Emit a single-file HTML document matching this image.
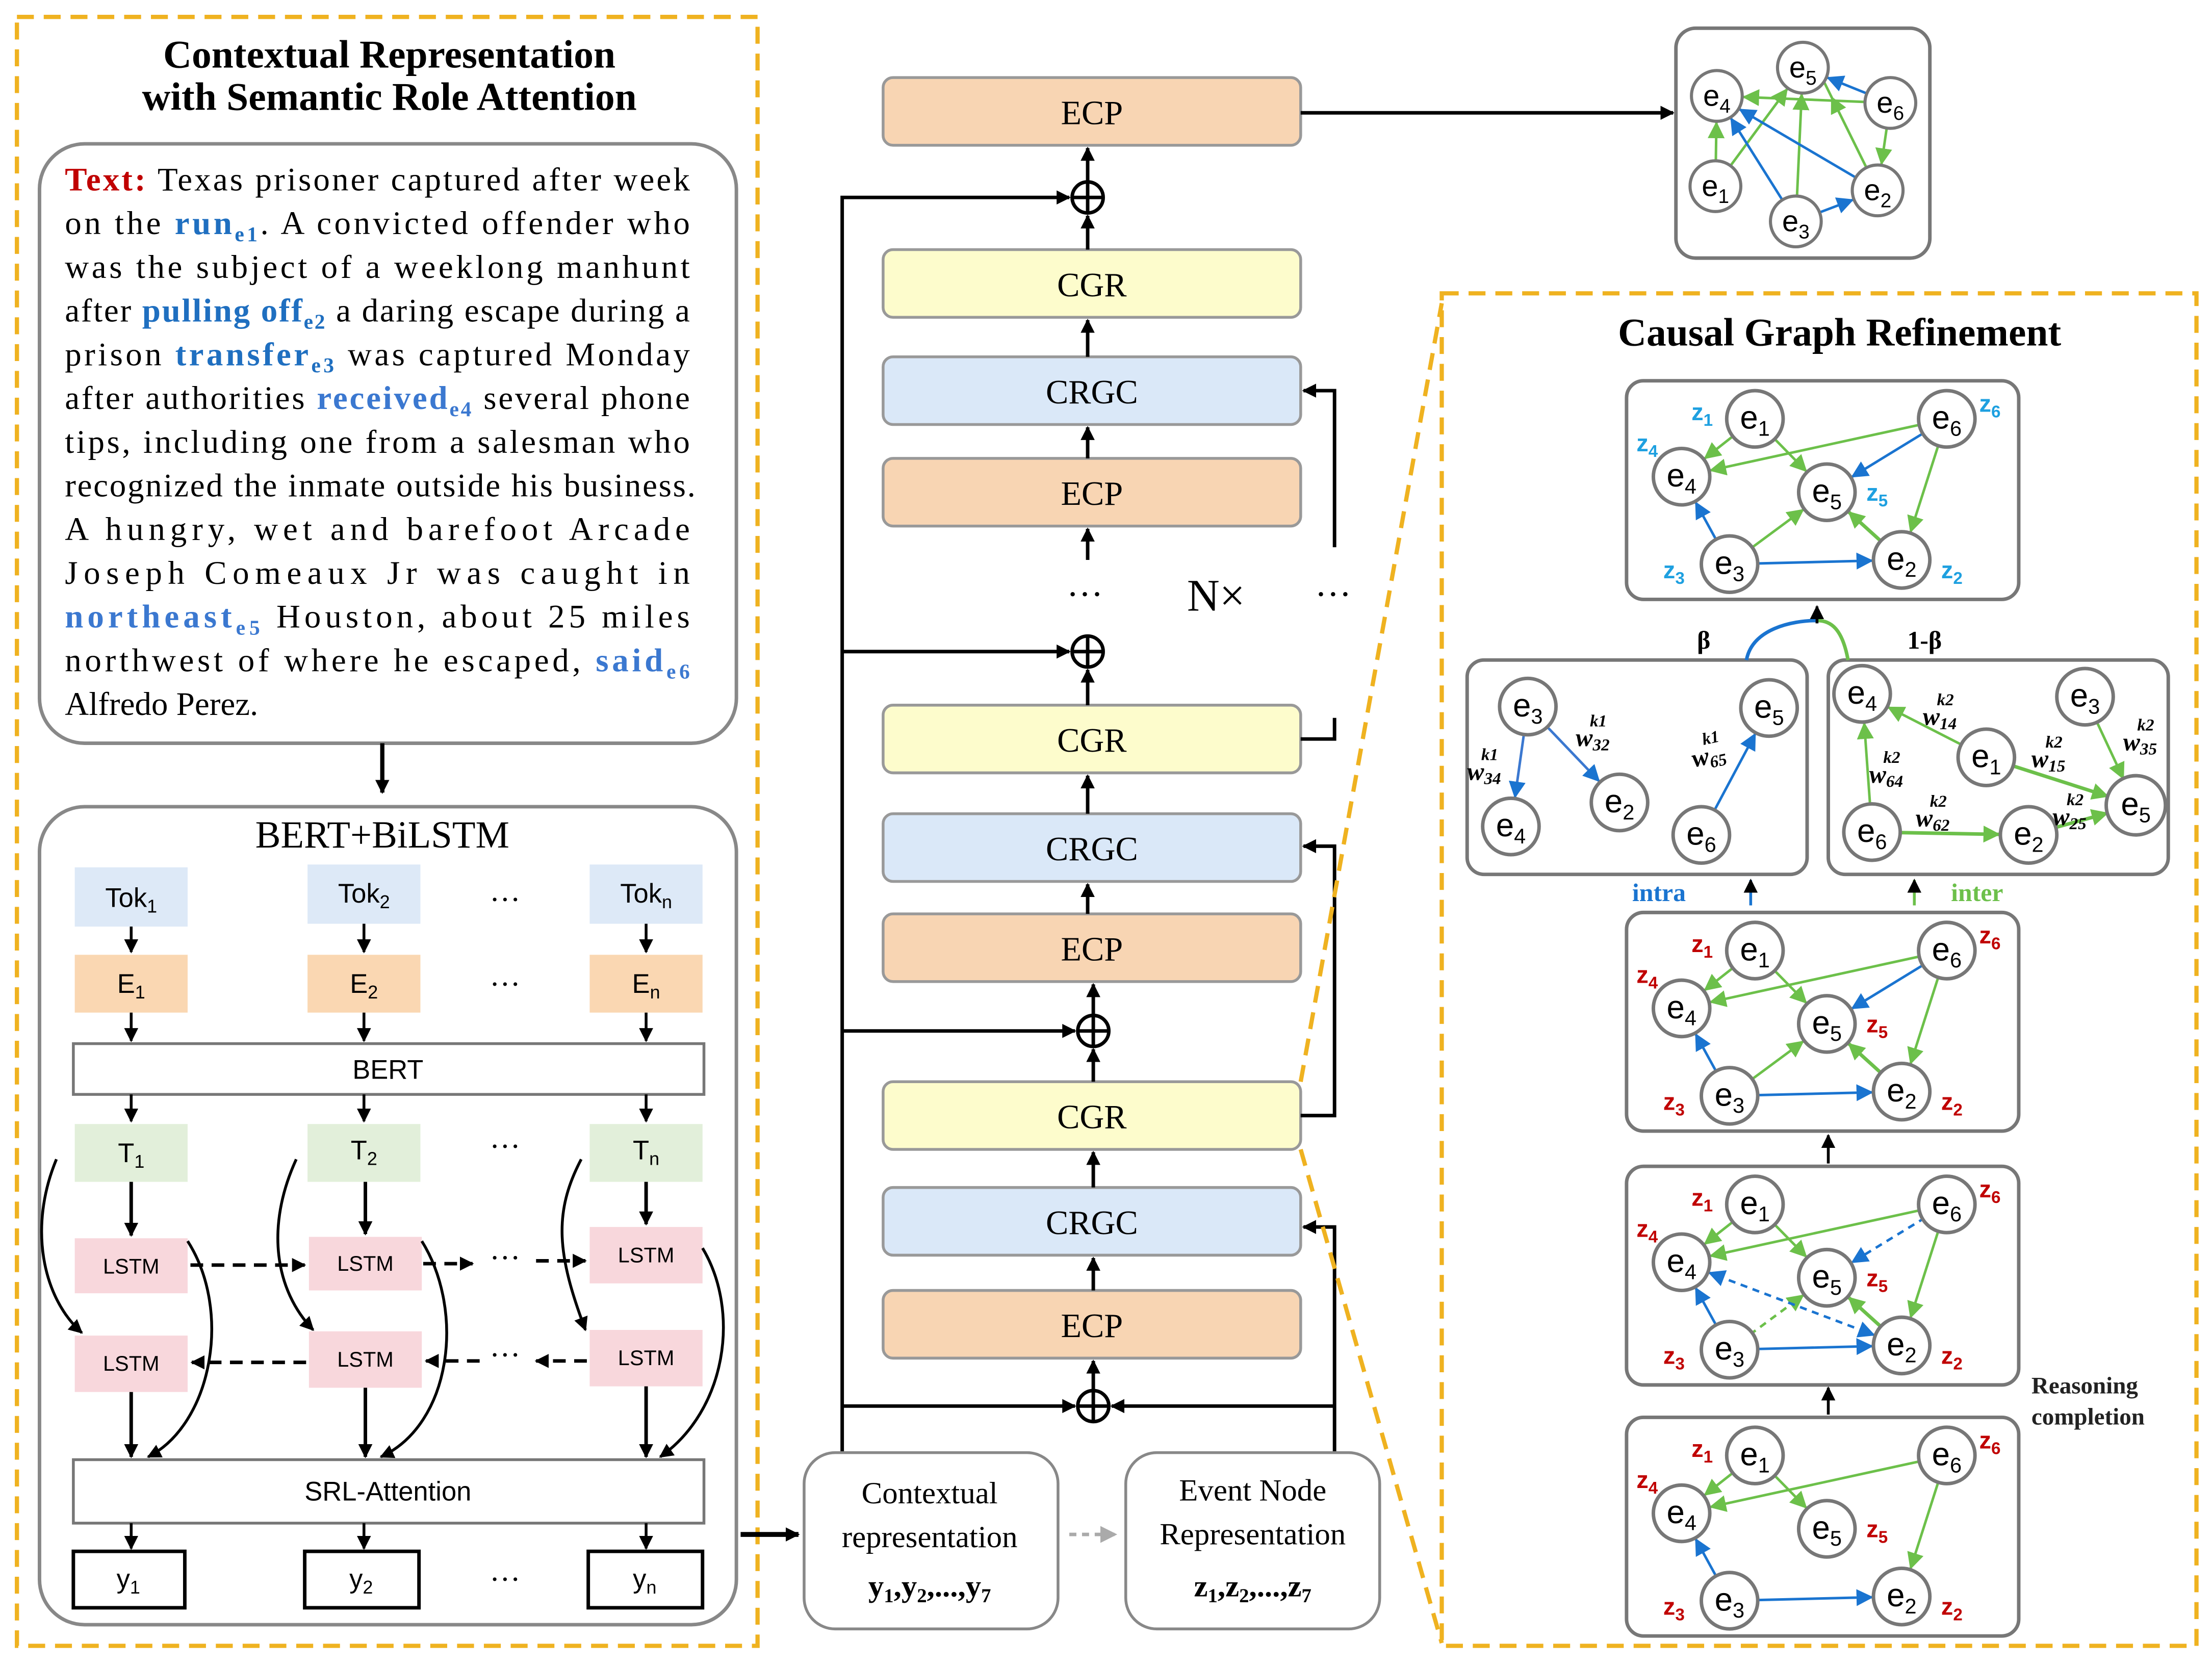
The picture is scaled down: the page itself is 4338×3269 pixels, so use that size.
<!DOCTYPE html>
<html><head><meta charset="utf-8"><style>
html,body{margin:0;padding:0;background:#fff;}
svg{display:block;}
.s{font-family:"Liberation Serif",serif;}
.a{font-family:"Liberation Sans",sans-serif;}
</style></head><body>
<svg width="4338" height="3269" viewBox="0 0 1568 1182" preserveAspectRatio="none" xmlns="http://www.w3.org/2000/svg">
<defs>
<marker id="k" markerWidth="12" markerHeight="12" refX="9" refY="5" orient="auto" markerUnits="userSpaceOnUse"><path d="M0,0 L10,5 L0,10 z" fill="#000"/></marker>
<marker id="g" markerWidth="40" markerHeight="14" refX="32" refY="6" orient="auto" markerUnits="userSpaceOnUse"><path d="M0,0 L12,6 L0,12 z" fill="#6cc04a"/></marker>
<marker id="b" markerWidth="40" markerHeight="14" refX="32" refY="6" orient="auto" markerUnits="userSpaceOnUse"><path d="M0,0 L12,6 L0,12 z" fill="#1a74d0"/></marker>
<marker id="bs" markerWidth="40" markerHeight="14" refX="32" refY="6" orient="auto-start-reverse" markerUnits="userSpaceOnUse"><path d="M0,0 L12,6 L0,12 z" fill="#1a74d0"/></marker>
<marker id="g2" markerWidth="40" markerHeight="14" refX="30" refY="6" orient="auto" markerUnits="userSpaceOnUse"><path d="M0,0 L12,6 L0,12 z" fill="#6cc04a"/></marker>
<marker id="b2" markerWidth="40" markerHeight="14" refX="30" refY="6" orient="auto" markerUnits="userSpaceOnUse"><path d="M0,0 L12,6 L0,12 z" fill="#1a74d0"/></marker>
<marker id="gr" markerWidth="14" markerHeight="14" refX="10" refY="6" orient="auto" markerUnits="userSpaceOnUse"><path d="M0,0 L12,6 L0,12 z" fill="#aaa"/></marker>
</defs>

<!-- LEFT PANEL -->
<rect x="12" y="12" width="525" height="1155" fill="none" stroke="#efb220" stroke-width="3" stroke-dasharray="12,7"/>
<text class="s" x="276" y="48" font-size="28" font-weight="bold" text-anchor="middle">Contextual Representation</text>
<text class="s" x="276" y="78" font-size="28" font-weight="bold" text-anchor="middle">with Semantic Role Attention</text>
<rect x="28" y="102" width="494" height="425" rx="32" fill="#fff" stroke="#888" stroke-width="2.5"/>
<g class="s" font-size="23.5">
<text x="46" y="135" textLength="443" lengthAdjust="spacing"><tspan fill="#c00000" font-weight="bold">Text:</tspan> Texas prisoner captured after week</text>
<text x="46" y="166" textLength="443" lengthAdjust="spacing">on the <tspan fill="#1f6fc0" font-weight="bold">run</tspan><tspan fill="#1f6fc0" font-weight="bold" font-size="15" dy="5">e1</tspan><tspan dy="-5">. A convicted offender who</tspan></text>
<text x="46" y="197" textLength="443" lengthAdjust="spacing">was the subject of a weeklong manhunt</text>
<text x="46" y="228" textLength="443" lengthAdjust="spacing">after <tspan fill="#1f6fc0" font-weight="bold">pulling off</tspan><tspan fill="#1f6fc0" font-weight="bold" font-size="15" dy="5">e2</tspan><tspan dy="-5"> a daring escape during a</tspan></text>
<text x="46" y="259" textLength="443" lengthAdjust="spacing">prison <tspan fill="#1f6fc0" font-weight="bold">transfer</tspan><tspan fill="#1f6fc0" font-weight="bold" font-size="15" dy="5">e3</tspan><tspan dy="-5"> was captured Monday</tspan></text>
<text x="46" y="290" textLength="443" lengthAdjust="spacing">after authorities <tspan fill="#3b78d0" font-weight="bold">received</tspan><tspan fill="#3b78d0" font-weight="bold" font-size="15" dy="5">e4</tspan><tspan dy="-5"> several phone</tspan></text>
<text x="46" y="321" textLength="443" lengthAdjust="spacing">tips, including one from a salesman who</text>
<text x="46" y="352" textLength="447" lengthAdjust="spacing">recognized the inmate outside his business.</text>
<text x="46" y="383" textLength="443" lengthAdjust="spacing">A hungry, wet and barefoot Arcade</text>
<text x="46" y="414" textLength="443" lengthAdjust="spacing">Joseph Comeaux Jr was caught in</text>
<text x="46" y="445" textLength="443" lengthAdjust="spacing"><tspan fill="#3b78d0" font-weight="bold">northeast</tspan><tspan fill="#3b78d0" font-weight="bold" font-size="15" dy="5">e5</tspan><tspan dy="-5"> Houston, about 25 miles</tspan></text>
<text x="46" y="476" textLength="443" lengthAdjust="spacing">northwest of where he escaped, <tspan fill="#3b78d0" font-weight="bold">said</tspan><tspan fill="#3b78d0" font-weight="bold" font-size="15" dy="5">e6</tspan></text>
<text x="46" y="507">Alfredo Perez.</text>
</g>
<line x1="271" y1="527" x2="271" y2="562" stroke="#000" stroke-width="3" marker-end="url(#k)"/>

<rect x="28" y="572" width="494" height="580" rx="32" fill="#fff" stroke="#888" stroke-width="2.5"/>
<text class="s" x="271" y="601" font-size="27" text-anchor="middle">BERT+BiLSTM</text>
<g class="a" font-size="19" text-anchor="middle">
<rect x="53" y="615" width="80" height="42" fill="#dde9f7"/><text x="93" y="643">Tok<tspan font-size="13" dy="4">1</tspan></text>
<rect x="218" y="613" width="80" height="42" fill="#dde9f7"/><text x="258" y="640">Tok<tspan font-size="13" dy="4">2</tspan></text>
<rect x="418" y="613" width="80" height="42" fill="#dde9f7"/><text x="458" y="640">Tok<tspan font-size="13" dy="4">n</tspan></text>
<rect x="53" y="677" width="80" height="41" fill="#fad7b2"/><text x="93" y="704">E<tspan font-size="13" dy="4">1</tspan></text>
<rect x="218" y="677" width="80" height="41" fill="#fad7b2"/><text x="258" y="704">E<tspan font-size="13" dy="4">2</tspan></text>
<rect x="418" y="677" width="80" height="41" fill="#fad7b2"/><text x="458" y="704">E<tspan font-size="13" dy="4">n</tspan></text>
<rect x="52" y="740" width="447" height="36" fill="#fff" stroke="#777" stroke-width="2"/><text x="275" y="765">BERT</text>
<rect x="53" y="797" width="80" height="41" fill="#e2efda"/><text x="93" y="824">T<tspan font-size="13" dy="4">1</tspan></text>
<rect x="218" y="797" width="80" height="41" fill="#e2efda"/><text x="258" y="822">T<tspan font-size="13" dy="4">2</tspan></text>
<rect x="418" y="797" width="80" height="41" fill="#e2efda"/><text x="458" y="822">T<tspan font-size="13" dy="4">n</tspan></text>
<g font-size="15">
<rect x="53" y="878" width="80" height="39" fill="#f8d7dc"/><text x="93" y="903">LSTM</text>
<rect x="219" y="877" width="80" height="38" fill="#f8d7dc"/><text x="259" y="901">LSTM</text>
<rect x="418" y="870" width="80" height="40" fill="#f8d7dc"/><text x="458" y="895">LSTM</text>
<rect x="53" y="947" width="80" height="40" fill="#f8d7dc"/><text x="93" y="972">LSTM</text>
<rect x="219" y="944" width="80" height="40" fill="#f8d7dc"/><text x="259" y="969">LSTM</text>
<rect x="418" y="943" width="80" height="40" fill="#f8d7dc"/><text x="458" y="968">LSTM</text>
</g>
<rect x="52" y="1035" width="447" height="45" fill="#fff" stroke="#777" stroke-width="2"/><text x="275" y="1064">SRL-Attention</text>
<rect x="52" y="1100" width="79" height="40" fill="#fff" stroke="#000" stroke-width="2.5"/><text x="91" y="1126">y<tspan font-size="13" dy="4">1</tspan></text>
<rect x="216" y="1100" width="81" height="40" fill="#fff" stroke="#000" stroke-width="2.5"/><text x="256" y="1126">y<tspan font-size="13" dy="4">2</tspan></text>
<rect x="417" y="1100" width="81" height="40" fill="#fff" stroke="#000" stroke-width="2.5"/><text x="457" y="1126">y<tspan font-size="13" dy="4">n</tspan></text>
</g>
<g class="s" font-size="22" text-anchor="middle"><text x="358" y="645">···</text><text x="358" y="705">···</text><text x="358" y="820">···</text><text x="358" y="1127">···</text></g>
<g stroke="#000" stroke-width="2" fill="none">
<line x1="93" y1="657" x2="93" y2="675" marker-end="url(#k)"/><line x1="258" y1="655" x2="258" y2="675" marker-end="url(#k)"/><line x1="458" y1="655" x2="458" y2="675" marker-end="url(#k)"/>
<line x1="93" y1="718" x2="93" y2="738" marker-end="url(#k)"/><line x1="258" y1="718" x2="258" y2="738" marker-end="url(#k)"/><line x1="458" y1="718" x2="458" y2="738" marker-end="url(#k)"/>
<line x1="93" y1="776" x2="93" y2="795" marker-end="url(#k)"/><line x1="258" y1="776" x2="258" y2="795" marker-end="url(#k)"/><line x1="458" y1="776" x2="458" y2="795" marker-end="url(#k)"/>
<line x1="93" y1="838" x2="93" y2="876" stroke-width="2.5" marker-end="url(#k)"/><line x1="259" y1="838" x2="259" y2="875" stroke-width="2.5" marker-end="url(#k)"/><line x1="458" y1="838" x2="458" y2="868" stroke-width="2.5" marker-end="url(#k)"/>
<line x1="93" y1="987" x2="93" y2="1033" stroke-width="2.5" marker-end="url(#k)"/><line x1="259" y1="984" x2="259" y2="1033" stroke-width="2.5" marker-end="url(#k)"/><line x1="458" y1="983" x2="458" y2="1033" stroke-width="2.5" marker-end="url(#k)"/>
<line x1="93" y1="1080" x2="93" y2="1098" marker-end="url(#k)"/><line x1="258" y1="1080" x2="258" y2="1098" marker-end="url(#k)"/><line x1="458" y1="1080" x2="458" y2="1098" marker-end="url(#k)"/>
<path d="M40,822 C20,870 30,920 58,945" marker-end="url(#k)"/>
<path d="M210,822 C188,870 195,915 222,943" marker-end="url(#k)"/>
<path d="M412,822 C392,860 395,890 415,943" marker-end="url(#k)"/>
<path d="M133,880 C165,930 150,1010 105,1033" marker-end="url(#k)"/>
<path d="M299,880 C330,930 320,1010 270,1033" marker-end="url(#k)"/>
<path d="M498,885 C525,930 515,1000 468,1033" marker-end="url(#k)"/>
<g stroke-width="2.5" stroke-dasharray="9,6">
<line x1="135" y1="897" x2="216" y2="897" marker-end="url(#k)"/>
<line x1="300" y1="896" x2="335" y2="896" marker-end="url(#k)"/>
<line x1="380" y1="894" x2="415" y2="894" marker-end="url(#k)"/>
<line x1="217" y1="966" x2="136" y2="966" marker-end="url(#k)"/>
<line x1="340" y1="965" x2="302" y2="965" marker-end="url(#k)"/>
<line x1="416" y1="965" x2="380" y2="965" marker-end="url(#k)"/>
</g>
</g>
<g class="s" font-size="22" text-anchor="middle"><text x="358" y="899">···</text><text x="358" y="968">···</text></g>
<line x1="525" y1="1088" x2="566" y2="1088" stroke="#000" stroke-width="3.5" marker-end="url(#k)"/>

<!-- MIDDLE COLUMN -->
<g class="s" font-size="24" text-anchor="middle" stroke-width="2">
<rect x="626" y="55" width="296" height="48" rx="7" fill="#f8d5b3" stroke="#999"/><text x="774" y="88">ECP</text>
<rect x="626" y="177" width="296" height="48" rx="7" fill="#fdfccc" stroke="#999"/><text x="774" y="210">CGR</text>
<rect x="626" y="253" width="296" height="48" rx="7" fill="#dae8f8" stroke="#999"/><text x="774" y="286">CRGC</text>
<rect x="626" y="325" width="296" height="48" rx="7" fill="#f8d5b3" stroke="#999"/><text x="774" y="358">ECP</text>
<rect x="626" y="500" width="296" height="48" rx="7" fill="#fdfccc" stroke="#999"/><text x="774" y="533">CGR</text>
<rect x="626" y="577" width="296" height="48" rx="7" fill="#dae8f8" stroke="#999"/><text x="774" y="610">CRGC</text>
<rect x="626" y="648" width="296" height="48" rx="7" fill="#f8d5b3" stroke="#999"/><text x="774" y="681">ECP</text>
<rect x="626" y="767" width="296" height="48" rx="7" fill="#fdfccc" stroke="#999"/><text x="774" y="800">CGR</text>
<rect x="626" y="842" width="296" height="48" rx="7" fill="#dae8f8" stroke="#999"/><text x="774" y="875">CRGC</text>
<rect x="626" y="915" width="296" height="48" rx="7" fill="#f8d5b3" stroke="#999"/><text x="774" y="948">ECP</text>
<text x="769" y="430" font-size="26">···</text><text x="862" y="433" font-size="32">N×</text><text x="945" y="430" font-size="26">···</text>
</g>
<g stroke="#000" stroke-width="2.5" fill="none">
<circle cx="771" cy="140" r="11"/><line x1="760" y1="140" x2="782" y2="140"/><line x1="771" y1="129" x2="771" y2="151"/>
<circle cx="771" cy="462" r="11"/><line x1="760" y1="462" x2="782" y2="462"/><line x1="771" y1="451" x2="771" y2="473"/>
<circle cx="775" cy="731" r="11"/><line x1="764" y1="731" x2="786" y2="731"/><line x1="775" y1="720" x2="775" y2="742"/>
<circle cx="775" cy="997" r="11"/><line x1="764" y1="997" x2="786" y2="997"/><line x1="775" y1="986" x2="775" y2="1008"/>
<line x1="771" y1="129" x2="771" y2="105" marker-end="url(#k)"/>
<line x1="771" y1="177" x2="771" y2="153" marker-end="url(#k)"/>
<line x1="771" y1="253" x2="771" y2="227" marker-end="url(#k)"/>
<line x1="771" y1="325" x2="771" y2="303" marker-end="url(#k)"/>
<line x1="771" y1="397" x2="771" y2="375" marker-end="url(#k)"/>
<line x1="771" y1="500" x2="771" y2="475" marker-end="url(#k)"/>
<line x1="771" y1="577" x2="771" y2="550" marker-end="url(#k)"/>
<line x1="771" y1="648" x2="771" y2="627" marker-end="url(#k)"/>
<line x1="775" y1="720" x2="775" y2="698" marker-end="url(#k)"/>
<line x1="775" y1="767" x2="775" y2="744" marker-end="url(#k)"/>
<line x1="775" y1="842" x2="775" y2="817" marker-end="url(#k)"/>
<line x1="775" y1="915" x2="775" y2="892" marker-end="url(#k)"/>
<line x1="775" y1="986" x2="775" y2="965" marker-end="url(#k)"/>
<polyline points="597,1030 597,140 758,140" marker-end="url(#k)"/>
<line x1="597" y1="462" x2="758" y2="462" marker-end="url(#k)"/>
<line x1="597" y1="731" x2="762" y2="731" marker-end="url(#k)"/>
<line x1="597" y1="997" x2="762" y2="997" marker-end="url(#k)"/>
<polyline points="922,791 946,791 946,600 924,600" marker-end="url(#k)"/>
<polyline points="922,524 946,524 946,509"/>
<polyline points="946,388 946,277 924,277" marker-end="url(#k)"/>
<polyline points="946,1030 946,870 924,870" marker-end="url(#k)"/>
<line x1="946" y1="997" x2="788" y2="997" marker-end="url(#k)"/>
<line x1="922" y1="80" x2="1186" y2="80" marker-end="url(#k)"/>
</g>
<rect x="570" y="1030" width="180" height="125" rx="22" fill="#fff" stroke="#888" stroke-width="2"/>
<rect x="798" y="1030" width="180" height="125" rx="22" fill="#fff" stroke="#888" stroke-width="2"/>
<g class="s" text-anchor="middle" font-size="22">
<text x="659" y="1066">Contextual</text><text x="659" y="1097">representation</text>
<text x="659" y="1132" font-weight="bold">y<tspan font-size="14" dy="4">1</tspan><tspan dy="-4">,y</tspan><tspan font-size="14" dy="4">2</tspan><tspan dy="-4">,...,y</tspan><tspan font-size="14" dy="4">7</tspan></text>
<text x="888" y="1064">Event Node</text><text x="888" y="1095">Representation</text>
<text x="888" y="1132" font-weight="bold">z<tspan font-size="14" dy="4">1</tspan><tspan dy="-4">,z</tspan><tspan font-size="14" dy="4">2</tspan><tspan dy="-4">,...,z</tspan><tspan font-size="14" dy="4">7</tspan></text>
</g>
<line x1="758" y1="1088" x2="790" y2="1088" stroke="#aaa" stroke-width="2.5" stroke-dasharray="5,4" marker-end="url(#gr)"/>

<!-- dashed zoom lines -->
<g stroke="#efb220" stroke-width="3" stroke-dasharray="12,7" fill="none">
<line x1="922" y1="767" x2="1022" y2="215"/>
<line x1="922" y1="815" x2="1022" y2="1165"/>
<rect x="1022" y="208" width="535" height="959"/>
</g>

<!-- TOP RIGHT GRAPH -->
<rect x="1188" y="20" width="180" height="163" rx="14" fill="#fff" stroke="#777" stroke-width="2.5"/>
<g stroke-width="1.8">
<line x1="1216" y1="132" x2="1217" y2="68" stroke="#6cc04a" marker-end="url(#g2)"/>
<line x1="1216" y1="132" x2="1278" y2="48" stroke="#6cc04a" marker-end="url(#g2)"/>
<line x1="1340" y1="73" x2="1217" y2="68" stroke="#6cc04a" marker-end="url(#g2)"/>
<line x1="1273" y1="157" x2="1278" y2="48" stroke="#6cc04a" marker-end="url(#g2)"/>
<line x1="1331" y1="135" x2="1290" y2="52" stroke="#6cc04a" marker-end="url(#g2)"/>
<line x1="1340" y1="73" x2="1331" y2="135" stroke="#6cc04a" marker-end="url(#g2)"/>
<line x1="1340" y1="73" x2="1278" y2="48" stroke="#1a74d0" marker-end="url(#b2)"/>
<line x1="1331" y1="135" x2="1217" y2="68" stroke="#1a74d0" marker-end="url(#b2)"/>
<line x1="1273" y1="157" x2="1217" y2="68" stroke="#1a74d0" marker-end="url(#b2)"/>
<line x1="1273" y1="157" x2="1331" y2="135" stroke="#1a74d0" marker-end="url(#b2)"/>
</g>
<g fill="#fff" stroke="#777" stroke-width="2.2">
<circle cx="1278" cy="48" r="18"/><circle cx="1217" cy="68" r="18"/><circle cx="1340" cy="73" r="18"/><circle cx="1216" cy="132" r="18"/><circle cx="1273" cy="157" r="18"/><circle cx="1331" cy="135" r="18"/>
</g>
<g class="a" font-size="21" text-anchor="middle">
<text x="1278" y="55">e<tspan font-size="14" dy="5">5</tspan></text><text x="1217" y="75">e<tspan font-size="14" dy="5">4</tspan></text><text x="1340" y="80">e<tspan font-size="14" dy="5">6</tspan></text><text x="1216" y="139">e<tspan font-size="14" dy="5">1</tspan></text><text x="1273" y="164">e<tspan font-size="14" dy="5">3</tspan></text><text x="1331" y="142">e<tspan font-size="14" dy="5">2</tspan></text>
</g>

<text class="s" x="1304" y="245" font-size="28" font-weight="bold" text-anchor="middle">Causal Graph Refinement</text>

<!-- refinement graph boxes -->
<g fill="#fff" stroke="#777" stroke-width="2.5">
<rect x="1153" y="270" width="278" height="155" rx="12"/>
<rect x="1040" y="468" width="241" height="152" rx="12"/>
<rect x="1296" y="468" width="241" height="152" rx="12"/>
<rect x="1153" y="647" width="278" height="155" rx="12"/>
<rect x="1153" y="827" width="278" height="155" rx="12"/>
<rect x="1153" y="1005" width="278" height="155" rx="12"/>
</g>

<!-- graph 1 (top, cyan z) -->
<g>
<g stroke-width="1.8">
<line x1="1244" y1="297" x2="1192" y2="338" stroke="#6cc04a" marker-end="url(#g)"/>
<line x1="1244" y1="297" x2="1295" y2="349" stroke="#6cc04a" marker-end="url(#g)"/>
<line x1="1380" y1="297" x2="1192" y2="338" stroke="#6cc04a" marker-end="url(#g)"/>
<line x1="1226" y1="400" x2="1295" y2="349" stroke="#6cc04a" marker-end="url(#g)"/>
<line x1="1380" y1="297" x2="1348" y2="397" stroke="#6cc04a" marker-end="url(#g)"/>
<line x1="1348" y1="397" x2="1295" y2="349" stroke="#6cc04a" stroke-width="2.5" marker-end="url(#g)"/>
<line x1="1380" y1="297" x2="1295" y2="349" stroke="#1a74d0" marker-end="url(#b)"/>
<line x1="1226" y1="400" x2="1192" y2="338" stroke="#1a74d0" marker-end="url(#b)"/>
<line x1="1226" y1="400" x2="1348" y2="397" stroke="#1a74d0" marker-end="url(#b)"/>
</g>
<g fill="#fff" stroke="#777" stroke-width="2.5"><circle cx="1244" cy="297" r="20"/><circle cx="1380" cy="297" r="20"/><circle cx="1192" cy="338" r="20"/><circle cx="1295" cy="349" r="20"/><circle cx="1226" cy="400" r="20"/><circle cx="1348" cy="397" r="20"/></g>
<g class="a" font-size="23" text-anchor="middle"><text x="1244" y="304">e<tspan font-size="15" dy="5">1</tspan></text><text x="1380" y="304">e<tspan font-size="15" dy="5">6</tspan></text><text x="1192" y="345">e<tspan font-size="15" dy="5">4</tspan></text><text x="1295" y="356">e<tspan font-size="15" dy="5">5</tspan></text><text x="1226" y="407">e<tspan font-size="15" dy="5">3</tspan></text><text x="1348" y="404">e<tspan font-size="15" dy="5">2</tspan></text></g>
<g class="a" font-size="17" font-weight="bold" fill="#1ea0e0"><text x="1199" y="298">z<tspan font-size="12" dy="4">1</tspan></text><text x="1403" y="292">z<tspan font-size="12" dy="4">6</tspan></text><text x="1160" y="320">z<tspan font-size="12" dy="4">4</tspan></text><text x="1323" y="355">z<tspan font-size="12" dy="4">5</tspan></text><text x="1179" y="410">z<tspan font-size="12" dy="4">3</tspan></text><text x="1376" y="410">z<tspan font-size="12" dy="4">2</tspan></text></g>
</g>

<!-- graph 2 (y0=647) -->
<g transform="translate(0,377)">
<g stroke-width="1.8">
<line x1="1244" y1="297" x2="1192" y2="338" stroke="#6cc04a" marker-end="url(#g)"/>
<line x1="1244" y1="297" x2="1295" y2="349" stroke="#6cc04a" marker-end="url(#g)"/>
<line x1="1380" y1="297" x2="1192" y2="338" stroke="#6cc04a" marker-end="url(#g)"/>
<line x1="1226" y1="400" x2="1295" y2="349" stroke="#6cc04a" marker-end="url(#g)"/>
<line x1="1380" y1="297" x2="1348" y2="397" stroke="#6cc04a" marker-end="url(#g)"/>
<line x1="1348" y1="397" x2="1295" y2="349" stroke="#6cc04a" stroke-width="2.5" marker-end="url(#g)"/>
<line x1="1380" y1="297" x2="1295" y2="349" stroke="#1a74d0" marker-end="url(#b)"/>
<line x1="1226" y1="400" x2="1192" y2="338" stroke="#1a74d0" marker-end="url(#b)"/>
<line x1="1226" y1="400" x2="1348" y2="397" stroke="#1a74d0" marker-end="url(#b)"/>
</g>
<g fill="#fff" stroke="#777" stroke-width="2.5"><circle cx="1244" cy="297" r="20"/><circle cx="1380" cy="297" r="20"/><circle cx="1192" cy="338" r="20"/><circle cx="1295" cy="349" r="20"/><circle cx="1226" cy="400" r="20"/><circle cx="1348" cy="397" r="20"/></g>
<g class="a" font-size="23" text-anchor="middle"><text x="1244" y="304">e<tspan font-size="15" dy="5">1</tspan></text><text x="1380" y="304">e<tspan font-size="15" dy="5">6</tspan></text><text x="1192" y="345">e<tspan font-size="15" dy="5">4</tspan></text><text x="1295" y="356">e<tspan font-size="15" dy="5">5</tspan></text><text x="1226" y="407">e<tspan font-size="15" dy="5">3</tspan></text><text x="1348" y="404">e<tspan font-size="15" dy="5">2</tspan></text></g>
<g class="a" font-size="17" font-weight="bold" fill="#c00000"><text x="1199" y="298">z<tspan font-size="12" dy="4">1</tspan></text><text x="1403" y="292">z<tspan font-size="12" dy="4">6</tspan></text><text x="1160" y="320">z<tspan font-size="12" dy="4">4</tspan></text><text x="1323" y="355">z<tspan font-size="12" dy="4">5</tspan></text><text x="1179" y="410">z<tspan font-size="12" dy="4">3</tspan></text><text x="1376" y="410">z<tspan font-size="12" dy="4">2</tspan></text></g>
</g>

<!-- graph 3 (y0=827) -->
<g transform="translate(0,557)">
<g stroke-width="1.8">
<line x1="1244" y1="297" x2="1192" y2="338" stroke="#6cc04a" marker-end="url(#g)"/>
<line x1="1244" y1="297" x2="1295" y2="349" stroke="#6cc04a" marker-end="url(#g)"/>
<line x1="1380" y1="297" x2="1192" y2="338" stroke="#6cc04a" marker-end="url(#g)"/>
<line x1="1226" y1="400" x2="1295" y2="349" stroke="#6cc04a" stroke-dasharray="5,4" marker-end="url(#g)"/>
<line x1="1380" y1="297" x2="1348" y2="397" stroke="#6cc04a" marker-end="url(#g)"/>
<line x1="1348" y1="397" x2="1295" y2="349" stroke="#6cc04a" stroke-width="2.5" marker-end="url(#g)"/>
<line x1="1380" y1="297" x2="1295" y2="349" stroke="#1a74d0" stroke-dasharray="5,4" marker-end="url(#b)"/>
<line x1="1348" y1="397" x2="1192" y2="338" stroke="#1a74d0" stroke-dasharray="5,4" marker-end="url(#b)" marker-start="url(#bs)"/>
<line x1="1226" y1="400" x2="1192" y2="338" stroke="#1a74d0" marker-end="url(#b)"/>
<line x1="1226" y1="400" x2="1348" y2="397" stroke="#1a74d0" marker-end="url(#b)"/>
</g>
<g fill="#fff" stroke="#777" stroke-width="2.5"><circle cx="1244" cy="297" r="20"/><circle cx="1380" cy="297" r="20"/><circle cx="1192" cy="338" r="20"/><circle cx="1295" cy="349" r="20"/><circle cx="1226" cy="400" r="20"/><circle cx="1348" cy="397" r="20"/></g>
<g class="a" font-size="23" text-anchor="middle"><text x="1244" y="304">e<tspan font-size="15" dy="5">1</tspan></text><text x="1380" y="304">e<tspan font-size="15" dy="5">6</tspan></text><text x="1192" y="345">e<tspan font-size="15" dy="5">4</tspan></text><text x="1295" y="356">e<tspan font-size="15" dy="5">5</tspan></text><text x="1226" y="407">e<tspan font-size="15" dy="5">3</tspan></text><text x="1348" y="404">e<tspan font-size="15" dy="5">2</tspan></text></g>
<g class="a" font-size="17" font-weight="bold" fill="#c00000"><text x="1199" y="298">z<tspan font-size="12" dy="4">1</tspan></text><text x="1403" y="292">z<tspan font-size="12" dy="4">6</tspan></text><text x="1160" y="320">z<tspan font-size="12" dy="4">4</tspan></text><text x="1323" y="355">z<tspan font-size="12" dy="4">5</tspan></text><text x="1179" y="410">z<tspan font-size="12" dy="4">3</tspan></text><text x="1376" y="410">z<tspan font-size="12" dy="4">2</tspan></text></g>
</g>

<!-- graph 4 (y0=1005) -->
<g transform="translate(0,735)">
<g stroke-width="1.8">
<line x1="1244" y1="297" x2="1192" y2="338" stroke="#6cc04a" marker-end="url(#g)"/>
<line x1="1244" y1="297" x2="1295" y2="349" stroke="#6cc04a" marker-end="url(#g)"/>
<line x1="1380" y1="297" x2="1192" y2="338" stroke="#6cc04a" marker-end="url(#g)"/>
<line x1="1380" y1="297" x2="1348" y2="397" stroke="#6cc04a" marker-end="url(#g)"/>
<line x1="1226" y1="400" x2="1192" y2="338" stroke="#1a74d0" marker-end="url(#b)"/>
<line x1="1226" y1="400" x2="1348" y2="397" stroke="#1a74d0" marker-end="url(#b)"/>
</g>
<g fill="#fff" stroke="#777" stroke-width="2.5"><circle cx="1244" cy="297" r="20"/><circle cx="1380" cy="297" r="20"/><circle cx="1192" cy="338" r="20"/><circle cx="1295" cy="349" r="20"/><circle cx="1226" cy="400" r="20"/><circle cx="1348" cy="397" r="20"/></g>
<g class="a" font-size="23" text-anchor="middle"><text x="1244" y="304">e<tspan font-size="15" dy="5">1</tspan></text><text x="1380" y="304">e<tspan font-size="15" dy="5">6</tspan></text><text x="1192" y="345">e<tspan font-size="15" dy="5">4</tspan></text><text x="1295" y="356">e<tspan font-size="15" dy="5">5</tspan></text><text x="1226" y="407">e<tspan font-size="15" dy="5">3</tspan></text><text x="1348" y="404">e<tspan font-size="15" dy="5">2</tspan></text></g>
<g class="a" font-size="17" font-weight="bold" fill="#c00000"><text x="1199" y="298">z<tspan font-size="12" dy="4">1</tspan></text><text x="1403" y="292">z<tspan font-size="12" dy="4">6</tspan></text><text x="1160" y="320">z<tspan font-size="12" dy="4">4</tspan></text><text x="1323" y="355">z<tspan font-size="12" dy="4">5</tspan></text><text x="1179" y="410">z<tspan font-size="12" dy="4">3</tspan></text><text x="1376" y="410">z<tspan font-size="12" dy="4">2</tspan></text></g>
</g>

<!-- intra graph -->
<g stroke-width="1.8">
<line x1="1083" y1="501" x2="1071" y2="586" stroke="#3b78d0" marker-end="url(#b)"/>
<line x1="1083" y1="501" x2="1148" y2="569" stroke="#3b78d0" marker-end="url(#b)"/>
<line x1="1206" y1="592" x2="1254" y2="502" stroke="#1a74d0" marker-end="url(#b)"/>
</g>
<g fill="#fff" stroke="#777" stroke-width="2.5"><circle cx="1083" cy="501" r="20"/><circle cx="1071" cy="586" r="20"/><circle cx="1148" cy="569" r="20"/><circle cx="1254" cy="502" r="20"/><circle cx="1206" cy="592" r="20"/></g>
<g class="a" font-size="23" text-anchor="middle"><text x="1083" y="508">e<tspan font-size="15" dy="5">3</tspan></text><text x="1071" y="593">e<tspan font-size="15" dy="5">4</tspan></text><text x="1148" y="576">e<tspan font-size="15" dy="5">2</tspan></text><text x="1254" y="509">e<tspan font-size="15" dy="5">5</tspan></text><text x="1206" y="599">e<tspan font-size="15" dy="5">6</tspan></text></g>
<!-- inter graph -->
<g stroke-width="1.8" stroke="#6cc04a">
<line x1="1408" y1="537" x2="1320" y2="492" marker-end="url(#g)"/>
<line x1="1327" y1="590" x2="1320" y2="492" marker-end="url(#g)"/>
<line x1="1408" y1="537" x2="1514" y2="571" stroke-width="2.5" marker-end="url(#g)"/>
<line x1="1478" y1="494" x2="1514" y2="571" marker-end="url(#g)"/>
<line x1="1327" y1="590" x2="1438" y2="592" stroke-width="2.5" marker-end="url(#g)"/>
<line x1="1438" y1="592" x2="1514" y2="571" stroke-width="2.5" marker-end="url(#g)"/>
</g>
<g fill="#fff" stroke="#777" stroke-width="2.5"><circle cx="1320" cy="492" r="20"/><circle cx="1478" cy="494" r="20"/><circle cx="1408" cy="537" r="20"/><circle cx="1327" cy="590" r="20"/><circle cx="1438" cy="592" r="20"/><circle cx="1514" cy="571" r="21"/></g>
<g class="a" font-size="23" text-anchor="middle"><text x="1320" y="499">e<tspan font-size="15" dy="5">4</tspan></text><text x="1478" y="501">e<tspan font-size="15" dy="5">3</tspan></text><text x="1408" y="544">e<tspan font-size="15" dy="5">1</tspan></text><text x="1327" y="597">e<tspan font-size="15" dy="5">6</tspan></text><text x="1438" y="599">e<tspan font-size="15" dy="5">2</tspan></text><text x="1514" y="578">e<tspan font-size="15" dy="5">5</tspan></text></g>
<!-- weight labels -->
<g class="s" font-style="italic" font-weight="bold" font-size="18">
<text x="1040" y="553">w<tspan font-size="12" dy="3">34</tspan><tspan font-size="12" dx="-14" dy="-17">k1</tspan></text>
<text x="1117" y="529">w<tspan font-size="12" dy="3">32</tspan><tspan font-size="12" dx="-14" dy="-17">k1</tspan></text>
<text x="1200" y="542" transform="rotate(-12 1210 540)">w<tspan font-size="12" dy="3">65</tspan><tspan font-size="12" dx="-14" dy="-17">k1</tspan></text>
<text x="1363" y="514">w<tspan font-size="12" dy="3">14</tspan><tspan font-size="12" dx="-14" dy="-17">k2</tspan></text>
<text x="1440" y="544">w<tspan font-size="12" dy="3">15</tspan><tspan font-size="12" dx="-14" dy="-17">k2</tspan></text>
<text x="1505" y="532">w<tspan font-size="12" dy="3">35</tspan><tspan font-size="12" dx="-14" dy="-17">k2</tspan></text>
<text x="1325" y="555">w<tspan font-size="12" dy="3">64</tspan><tspan font-size="12" dx="-14" dy="-17">k2</tspan></text>
<text x="1358" y="586">w<tspan font-size="12" dy="3">62</tspan><tspan font-size="12" dx="-14" dy="-17">k2</tspan></text>
<text x="1455" y="585">w<tspan font-size="12" dy="3">25</tspan><tspan font-size="12" dx="-14" dy="-17">k2</tspan></text>
</g>
<!-- beta arcs and arrows -->
<g fill="none" stroke-width="2.5">
<path d="M1238,468 C1242,446 1270,440 1288,440" stroke="#1a74d0"/>
<path d="M1310,468 C1306,446 1298,440 1288,440" stroke="#6cc04a"/>
</g>
<g stroke="#000" stroke-width="2" fill="none">
<line x1="1288" y1="442" x2="1288" y2="430" marker-end="url(#k)"/>
<line x1="1296" y1="825" x2="1296" y2="805" marker-end="url(#k)"/>
<line x1="1296" y1="1003" x2="1296" y2="984" marker-end="url(#k)"/>
</g>
<line x1="1241" y1="642" x2="1241" y2="624" stroke="#1a74d0" stroke-width="2" marker-end="url(#k)"/>
<line x1="1357" y1="642" x2="1357" y2="624" stroke="#6cc04a" stroke-width="2" marker-end="url(#k)"/>
<g class="s" font-weight="bold" font-size="18">
<text x="1203" y="460">β</text><text x="1352" y="460">1-β</text>
<text x="1157" y="639" fill="#1a74d0">intra</text><text x="1383" y="639" fill="#6cc04a">inter</text>
<text x="1440" y="988" font-size="17" fill="#222">Reasoning</text><text x="1440" y="1010" font-size="17" fill="#222">completion</text>
</g>
</svg>
</body></html>
